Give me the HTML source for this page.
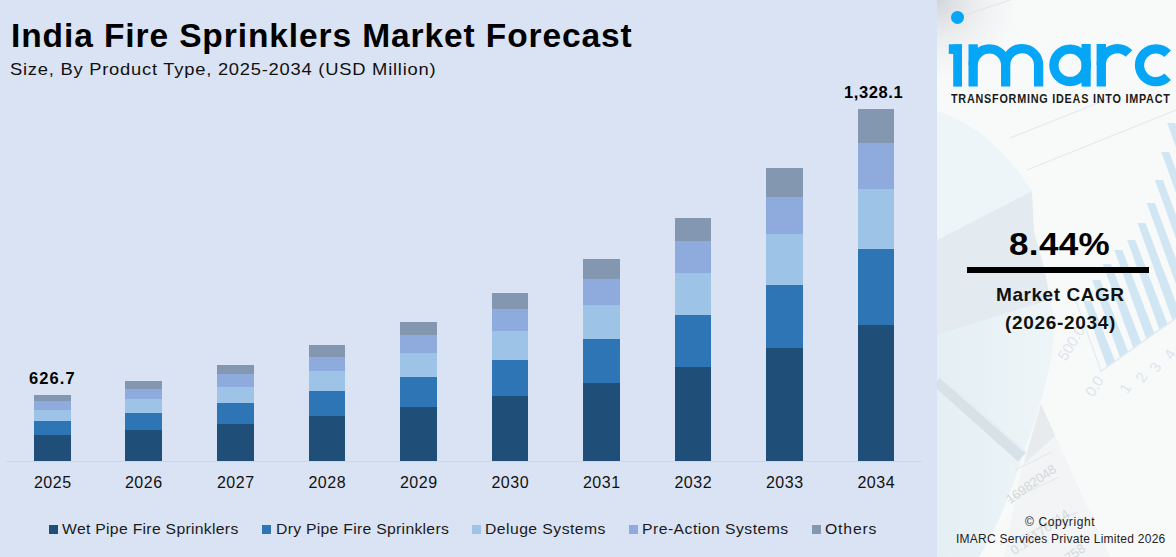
<!DOCTYPE html>
<html><head><meta charset="utf-8">
<style>
html,body{margin:0;padding:0;}
body{width:1176px;height:557px;overflow:hidden;position:relative;background:#dae3f3;font-family:"Liberation Sans",sans-serif;color:#000;}
.s{position:absolute;}
.yr{position:absolute;top:473px;width:60px;text-align:center;font-size:16px;line-height:20px;color:#111;letter-spacing:0.5px;text-indent:0.5px;}
.t{position:absolute;white-space:nowrap;}
#title{left:11px;top:15.5px;font-size:33.5px;font-weight:bold;line-height:40px;letter-spacing:0.9px;}
#sub{left:10px;top:59px;font-size:17px;line-height:22px;color:#111;letter-spacing:0.7px;transform:scaleX(1.08);transform-origin:0 0;}
.lab{position:absolute;font-size:16.5px;font-weight:bold;line-height:20px;white-space:nowrap;}
#axis{position:absolute;left:6px;top:461px;width:916px;height:1px;background:#d2d7df;}
.lg{position:absolute;top:525px;width:9px;height:9px;}
.lt{position:absolute;top:519px;font-size:15px;line-height:20px;color:#1a1a1a;white-space:nowrap;transform:scaleX(1.05);transform-origin:0 0;}
#panel{position:absolute;left:937px;top:0;width:239px;height:557px;background:#f2f4f6;overflow:hidden;}
#tag{left:14px;top:92px;font-size:12px;font-weight:bold;line-height:14px;color:#1a1a1a;letter-spacing:0.86px;transform:scaleX(0.9);transform-origin:0 0;}
#cagr{left:72px;top:227px;font-size:31px;font-weight:bold;line-height:36px;letter-spacing:0.3px;transform:scaleX(1.13);transform-origin:0 0;}
#cline{position:absolute;left:30px;top:267px;width:182px;height:6px;background:#000;}
#mc{left:59px;top:283px;letter-spacing:0.55px;font-size:19px;font-weight:bold;line-height:24px;color:#111;}
#yrs{left:68px;top:311px;letter-spacing:0.67px;font-size:19px;font-weight:bold;line-height:24px;color:#111;}
#cp1{left:88px;top:515px;letter-spacing:0.6px;font-size:12px;line-height:14px;color:#222;}
#cp2{left:19px;top:532px;letter-spacing:0.25px;font-size:12px;line-height:14px;color:#222;}
</style></head><body>
<div id="title" class="t">India Fire Sprinklers Market Forecast</div>
<div id="sub" class="t">Size, By Product Type, 2025-2034 (USD Million)</div>
<div id="axis"></div>
<div class="s" style="left:34px;top:395px;width:37px;height:6px;background:#8497b0"></div>
<div class="s" style="left:34px;top:401px;width:37px;height:9px;background:#8faadc"></div>
<div class="s" style="left:34px;top:410px;width:37px;height:11px;background:#9dc3e6"></div>
<div class="s" style="left:34px;top:421px;width:37px;height:14px;background:#2e75b6"></div>
<div class="s" style="left:34px;top:435px;width:37px;height:26px;background:#1f4e79"></div>
<div class="yr" style="left:22.5px">2025</div>
<div class="s" style="left:125px;top:381px;width:37px;height:8px;background:#8497b0"></div>
<div class="s" style="left:125px;top:389px;width:37px;height:10px;background:#8faadc"></div>
<div class="s" style="left:125px;top:399px;width:37px;height:14px;background:#9dc3e6"></div>
<div class="s" style="left:125px;top:413px;width:37px;height:17px;background:#2e75b6"></div>
<div class="s" style="left:125px;top:430px;width:37px;height:31px;background:#1f4e79"></div>
<div class="yr" style="left:113.5px">2026</div>
<div class="s" style="left:217px;top:365px;width:37px;height:9px;background:#8497b0"></div>
<div class="s" style="left:217px;top:374px;width:37px;height:13px;background:#8faadc"></div>
<div class="s" style="left:217px;top:387px;width:37px;height:16px;background:#9dc3e6"></div>
<div class="s" style="left:217px;top:403px;width:37px;height:21px;background:#2e75b6"></div>
<div class="s" style="left:217px;top:424px;width:37px;height:37px;background:#1f4e79"></div>
<div class="yr" style="left:205.5px">2027</div>
<div class="s" style="left:309px;top:345px;width:36px;height:12px;background:#8497b0"></div>
<div class="s" style="left:309px;top:357px;width:36px;height:14px;background:#8faadc"></div>
<div class="s" style="left:309px;top:371px;width:36px;height:20px;background:#9dc3e6"></div>
<div class="s" style="left:309px;top:391px;width:36px;height:25px;background:#2e75b6"></div>
<div class="s" style="left:309px;top:416px;width:36px;height:45px;background:#1f4e79"></div>
<div class="yr" style="left:297.0px">2028</div>
<div class="s" style="left:400px;top:322px;width:37px;height:13px;background:#8497b0"></div>
<div class="s" style="left:400px;top:335px;width:37px;height:18px;background:#8faadc"></div>
<div class="s" style="left:400px;top:353px;width:37px;height:24px;background:#9dc3e6"></div>
<div class="s" style="left:400px;top:377px;width:37px;height:30px;background:#2e75b6"></div>
<div class="s" style="left:400px;top:407px;width:37px;height:54px;background:#1f4e79"></div>
<div class="yr" style="left:388.5px">2029</div>
<div class="s" style="left:492px;top:293px;width:36px;height:16px;background:#8497b0"></div>
<div class="s" style="left:492px;top:309px;width:36px;height:22px;background:#8faadc"></div>
<div class="s" style="left:492px;top:331px;width:36px;height:29px;background:#9dc3e6"></div>
<div class="s" style="left:492px;top:360px;width:36px;height:36px;background:#2e75b6"></div>
<div class="s" style="left:492px;top:396px;width:36px;height:65px;background:#1f4e79"></div>
<div class="yr" style="left:480.0px">2030</div>
<div class="s" style="left:583px;top:259px;width:37px;height:20px;background:#8497b0"></div>
<div class="s" style="left:583px;top:279px;width:37px;height:26px;background:#8faadc"></div>
<div class="s" style="left:583px;top:305px;width:37px;height:34px;background:#9dc3e6"></div>
<div class="s" style="left:583px;top:339px;width:37px;height:44px;background:#2e75b6"></div>
<div class="s" style="left:583px;top:383px;width:37px;height:78px;background:#1f4e79"></div>
<div class="yr" style="left:571.5px">2031</div>
<div class="s" style="left:675px;top:218px;width:36px;height:23px;background:#8497b0"></div>
<div class="s" style="left:675px;top:241px;width:36px;height:32px;background:#8faadc"></div>
<div class="s" style="left:675px;top:273px;width:36px;height:42px;background:#9dc3e6"></div>
<div class="s" style="left:675px;top:315px;width:36px;height:52px;background:#2e75b6"></div>
<div class="s" style="left:675px;top:367px;width:36px;height:94px;background:#1f4e79"></div>
<div class="yr" style="left:663.0px">2032</div>
<div class="s" style="left:766px;top:168px;width:37px;height:29px;background:#8497b0"></div>
<div class="s" style="left:766px;top:197px;width:37px;height:37px;background:#8faadc"></div>
<div class="s" style="left:766px;top:234px;width:37px;height:51px;background:#9dc3e6"></div>
<div class="s" style="left:766px;top:285px;width:37px;height:63px;background:#2e75b6"></div>
<div class="s" style="left:766px;top:348px;width:37px;height:113px;background:#1f4e79"></div>
<div class="yr" style="left:754.5px">2033</div>
<div class="s" style="left:858px;top:109px;width:36px;height:34px;background:#8497b0"></div>
<div class="s" style="left:858px;top:143px;width:36px;height:46px;background:#8faadc"></div>
<div class="s" style="left:858px;top:189px;width:36px;height:60px;background:#9dc3e6"></div>
<div class="s" style="left:858px;top:249px;width:36px;height:76px;background:#2e75b6"></div>
<div class="s" style="left:858px;top:325px;width:36px;height:136px;background:#1f4e79"></div>
<div class="yr" style="left:846.0px">2034</div>
<div class="lab" style="left:29px;top:368px;letter-spacing:1.1px">626.7</div>
<div class="lab" style="left:844px;top:82px;letter-spacing:0.6px">1,328.1</div>
<div class="lg" style="left:49px;background:#1f4e79"></div><div class="lt" style="left:62px;letter-spacing:0.28px">Wet Pipe Fire Sprinklers</div>
<div class="lg" style="left:262px;background:#2e75b6"></div><div class="lt" style="left:276px;letter-spacing:0.27px">Dry Pipe Fire Sprinklers</div>
<div class="lg" style="left:472px;background:#9dc3e6"></div><div class="lt" style="left:485px;letter-spacing:0.42px">Deluge Systems</div>
<div class="lg" style="left:629px;background:#8faadc"></div><div class="lt" style="left:642px;letter-spacing:0.44px">Pre-Action Systems</div>
<div class="lg" style="left:812px;background:#8497b0"></div><div class="lt" style="left:825px;letter-spacing:0.8px">Others</div>
<div id="panel">
<svg width="239" height="557" viewBox="937 0 239 557" style="position:absolute;left:0;top:0">
<defs>
<radialGradient id="gc" cx="937" cy="0" r="90" gradientUnits="userSpaceOnUse">
<stop offset="0" stop-color="#d2d6da"/><stop offset="1" stop-color="#f4f5f6" stop-opacity="0"/>
</radialGradient>
<linearGradient id="gp" x1="0" y1="0" x2="1" y2="0">
<stop offset="0" stop-color="#e4eff4"/><stop offset="1" stop-color="#eef5f8"/>
</linearGradient>
</defs>
<rect x="937" y="0" width="239" height="557" fill="#f8f9f9"/>
<rect x="937" y="0" width="239" height="557" fill="url(#gc)"/>
<path d="M937 111 Q992 128 1032 191 L937 240 Z" fill="#edf5f8"/>
<path d="M937 240 L1032 191 L1034 232 Q1046 270 1050 300 L937 335 Z" fill="#e3ebf0"/>
<path d="M937 335 L1050 300 Q1058 325 1050 365 Q1040 410 1025 448 Q1005 515 979 557 L937 557 Z" fill="url(#gp)"/>
<path d="M937 381 L1022 457" stroke="#d6e1e8" stroke-width="12"/>
<path d="M937 374 L1024 451" stroke="#e6eef3" stroke-width="2.5"/>
<polygon points="1041,404 1110,557 1004,557 1022,466" fill="#f2f4f5"/>
<polygon points="1041,404 1055,436 1024,464" fill="#e8ebee"/>
<path d="M1008 501 L1059 477 M1015 470 L1052 452 M1000 545 L1078 512" stroke="#e2e6e9" stroke-width="1" fill="none"/>
<g font-family="Liberation Sans, sans-serif" font-size="13" fill="#d3d8dc" text-anchor="middle" dominant-baseline="central">
<text x="1031" y="484" transform="rotate(-35 1031 484)">16982048</text>
<text x="1040" y="532" transform="rotate(-35 1040 532)">0.15176714</text>
<text x="1075" y="553" transform="rotate(-35 1075 553)">758</text>
</g>
<g fill="#d0e6f3">
<polygon points="1083.3,301 1091.3,301 1115.0,361.0 1107.0,366.7"/>
<polygon points="1092.2,280 1100.2,280 1128.1,351.7 1120.1,357.4"/>
<polygon points="1102.9,264 1110.9,264 1141.2,342.4 1133.2,348.1"/>
<polygon points="1114.3,250 1122.3,250 1154.3,333.1 1146.3,338.8"/>
<polygon points="1127.2,240 1135.2,240 1167.4,323.8 1159.4,329.5"/>
<polygon points="1137.5,223 1145.5,223 1180.5,314.5 1172.5,320.2"/>
<polygon points="1146.8,203 1154.8,203 1193.6,305.2 1185.6,310.9"/>
<polygon points="1154.9,180 1162.9,180 1206.7,295.9 1198.7,301.6"/>
<polygon points="1161.3,152 1169.3,152 1219.8,286.6 1211.8,292.3"/>
<polygon points="1167.3,123 1175.3,123 1232.9,277.3 1224.9,283.0"/>
<polygon points="1177.3,105 1185.3,105 1246.0,268.0 1238.0,273.7"/>
</g>
<path d="M1100 372 L1176 318" stroke="#dfeaf1" stroke-width="1.5"/>
<path d="M1010 138 L1118 95 M1027 170 L1176 110" stroke="#e6e9ec" stroke-width="1.2" fill="none"/>
<g font-family="Liberation Sans, sans-serif" font-size="15" text-anchor="middle" dominant-baseline="central">
<text x="1094" y="386" fill="#dde4ea" transform="rotate(-58 1094 386)">0.0</text>
<text x="1071" y="343" fill="#dde4ea" transform="rotate(-58 1071 343)">500.0</text>
<text x="1125" y="388" fill="#d8e7f1" transform="rotate(-58 1125 388)">1</text>
<text x="1141" y="377" fill="#d8e7f1" transform="rotate(-58 1141 377)">2</text>
<text x="1155" y="367" fill="#d8e7f1" transform="rotate(-58 1155 367)">3</text>
<text x="1169.5" y="354" fill="#d8e7f1" transform="rotate(-58 1169.5 354)">4</text>
</g>
<path d="M1101 371 L1072 290" stroke="#e3edf3" stroke-width="1.2"/>
<path d="M950 20 L1010 0" stroke="#e2e5e8" stroke-width="1"/>
</svg>
<svg width="239" height="557" viewBox="937 0 239 557" style="position:absolute;left:0;top:0">
<circle cx="957.5" cy="17.4" r="6.5" fill="#06a6f6"/>
<g fill="#06a6f6">
<rect x="948.8" y="44.3" width="13.2" height="9.6"/>
<rect x="953.2" y="44.3" width="8.8" height="42.3"/>
<rect x="968.5" y="44.3" width="9.3" height="21"/>
</g>
<g fill="none" stroke="#06a6f6" stroke-width="9.3">
<path d="M973.15 86.6 V65.1 A16.25 16.25 0 0 1 1005.65 65.1 V86.6"/>
<path d="M1005.65 65.1 A16.25 16.25 0 0 1 1038.6 65.1 V86.6"/>
<circle cx="1070.1" cy="65.3" r="16.2"/>
<path d="M1101.3 86.6 V65.3 A16.2 16.2 0 0 1 1129 53.5"/>
<path d="M1167.6 53.8 A16.4 16.4 0 1 0 1167.6 76.8"/>
</g>
<rect x="1081.5" y="44" width="9.2" height="42.6" fill="#06a6f6"/>
<rect x="1096.6" y="44" width="9.4" height="21" fill="#06a6f6"/>
</svg>
<div class="t" id="tag">TRANSFORMING IDEAS INTO IMPACT</div>
<div class="t" id="cagr">8.44%</div>
<div id="cline"></div>
<div class="t" id="mc">Market CAGR</div>
<div class="t" id="yrs">(2026-2034)</div>
<div class="t" id="cp1">&copy; Copyright</div>
<div class="t" id="cp2">IMARC Services Private Limited 2026</div>
</div>
</body></html>
